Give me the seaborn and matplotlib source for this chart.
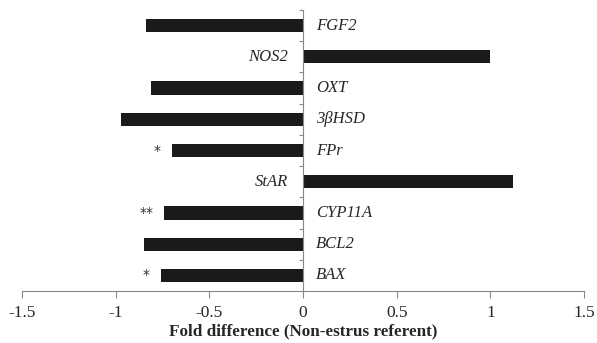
import numpy as np
import pandas as pd
import matplotlib
matplotlib.use("Agg")
import matplotlib.pyplot as plt
import seaborn as sns

genes = ["FGF2", "NOS2", "OXT", "3βHSD", "FPr", "StAR", "CYP11A", "BCL2", "BAX"]
fold = [-0.84, 1.00, -0.81, -0.97, -0.70, 1.12, -0.74, -0.85, -0.76]
stars = ["", "", "", "", "*", "", "**", "", "*"]

df = pd.DataFrame({"gene": genes, "fold": fold})

sns.set_style("white")
plt.rcParams['font.family'] = ['Liberation Serif', 'DejaVu Serif']

fig = plt.figure(figsize=(5.97, 3.43), dpi=100)
ax = fig.add_axes([22/597, 1-291/343, (584-22)/597, (291-10)/343])

sns.barplot(data=df, y="gene", x="fold", orient="h", color="#1a1a1a",
            width=0.42, saturation=1, linewidth=0, ax=ax)

ax.set_xlim(-1.5, 1.5)
ax.set_ylim(len(genes)-0.5, -0.5)
ax.set_xticks([-1.5, -1, -0.5, 0, 0.5, 1, 1.5])
ax.set_xticklabels(["-1.5", "-1", "-0.5", "0", "0.5", "1", "1.5"], fontsize=12.5)
ax.set_yticks(np.arange(len(genes)) - 0.5)
ax.set_yticklabels([])
ax.tick_params(axis="x", bottom=True, direction="out", length=5, width=0.8, color="#888888", pad=5)
ax.tick_params(axis="y", left=True, direction="out", length=3, width=0.8, color="#888888")

for s in ["top", "right"]:
    ax.spines[s].set_visible(False)
ax.spines["left"].set_position(("data", 0))
ax.spines["left"].set_color("#888888")
ax.spines["bottom"].set_color("#888888")
ax.spines["left"].set_linewidth(0.8)
ax.spines["bottom"].set_linewidth(0.8)

ax.set_ylabel("")
ax.set_xlabel("Fold difference (Non-estrus referent)", fontsize=12.3, fontweight="bold", labelpad=2)

for i, (g, v, s) in enumerate(zip(genes, fold, stars)):
    if v < 0:
        ax.text(0.07, i, g, ha="left", va="center", fontsize=12, style="italic")
    else:
        ax.text(-0.08, i, g, ha="right", va="center", fontsize=12, style="italic")
    if s:
        ax.text(v - 0.06, i, s, ha="right", va="center", fontsize=10,
                family="DejaVu Sans", color="#333333")

fig.savefig("out.png", dpi=100)
